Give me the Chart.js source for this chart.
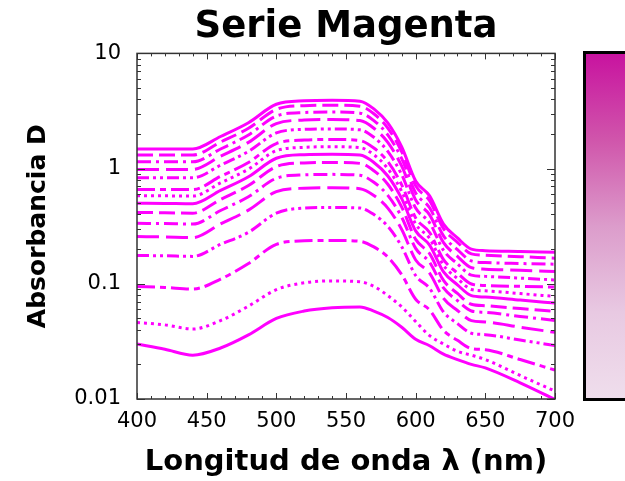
<!DOCTYPE html>
<html>
<head>
<meta charset="utf-8">
<script src="https://cdn.jsdelivr.net/npm/chart.js@4.4.1/dist/chart.umd.min.js"></script>
<style>
  body { margin: 0; background: #fff; }
</style>
</head>
<body>
<canvas id="myChart" width="625" height="481"></canvas>
<script>
// wavelengths (nm) shared by every curve
var wavelengths = [400, 420, 440, 460, 480, 500, 520, 540, 560, 570, 580, 590, 600, 610, 620, 630, 640, 650, 675, 700];

// absorbance, top curve first
var serie1 = [1.48, 1.48, 1.48, 1.90, 2.50, 3.62, 3.88, 3.92, 3.85, 3.30, 2.49, 1.54, 0.78, 0.58, 0.33, 0.25, 0.20, 0.194, 0.191, 0.188];
var serie2 = [1.31, 1.31, 1.31, 1.70, 2.24, 3.27, 3.52, 3.55, 3.48, 2.99, 2.25, 1.40, 0.71, 0.526, 0.301, 0.229, 0.182, 0.177, 0.172, 0.167];
var serie3 = [1.145, 1.145, 1.145, 1.48, 1.96, 2.86, 3.07, 3.10, 3.03, 2.61, 1.96, 1.22, 0.615, 0.457, 0.261, 0.198, 0.158, 0.153, 0.150, 0.148];
var serie4 = [0.984, 0.984, 0.984, 1.28, 1.69, 2.46, 2.64, 2.67, 2.61, 2.24, 1.69, 1.05, 0.535, 0.397, 0.228, 0.173, 0.138, 0.134, 0.131, 0.128];
var serie5 = [0.832, 0.832, 0.832, 1.07, 1.41, 2.04, 2.19, 2.21, 2.17, 1.87, 1.41, 0.885, 0.454, 0.339, 0.195, 0.149, 0.119, 0.116, 0.112, 0.108];
var serie6 = [0.660, 0.660, 0.658, 0.857, 1.13, 1.65, 1.77, 1.79, 1.75, 1.51, 1.15, 0.723, 0.373, 0.279, 0.162, 0.124, 0.0995, 0.0966, 0.095, 0.0936];
var serie7 = [0.582, 0.580, 0.578, 0.752, 0.989, 1.43, 1.53, 1.55, 1.52, 1.32, 1.00, 0.634, 0.330, 0.248, 0.145, 0.111, 0.0893, 0.0869, 0.0822, 0.0776];
var serie8 = [0.500, 0.498, 0.495, 0.646, 0.849, 1.23, 1.32, 1.33, 1.31, 1.13, 0.863, 0.548, 0.288, 0.217, 0.127, 0.098, 0.0789, 0.0767, 0.0722, 0.068];
var serie9 = [0.416, 0.414, 0.410, 0.540, 0.713, 1.04, 1.12, 1.13, 1.11, 0.957, 0.731, 0.463, 0.243, 0.183, 0.107, 0.0824, 0.0664, 0.0645, 0.0610, 0.0576];
var serie10 = [0.335, 0.333, 0.330, 0.433, 0.569, 0.824, 0.883, 0.891, 0.875, 0.760, 0.586, 0.378, 0.203, 0.154, 0.092, 0.0714, 0.0581, 0.0565, 0.0521, 0.0481];
var serie11 = [0.257, 0.255, 0.252, 0.331, 0.436, 0.631, 0.676, 0.682, 0.670, 0.585, 0.454, 0.296, 0.161, 0.124, 0.0748, 0.0586, 0.0479, 0.0466, 0.0420, 0.0379];
var serie12 = [0.176, 0.175, 0.173, 0.220, 0.280, 0.410, 0.455, 0.460, 0.455, 0.400, 0.315, 0.210, 0.118, 0.0914, 0.0569, 0.0451, 0.0372, 0.0362, 0.0325, 0.0291];
var serie13 = [0.0948, 0.093, 0.090, 0.110, 0.150, 0.220, 0.236, 0.238, 0.234, 0.209, 0.171, 0.120, 0.0735, 0.0592, 0.0394, 0.0323, 0.0274, 0.0268, 0.0220, 0.0178];
var serie14 = [0.0462, 0.044, 0.0405, 0.048, 0.064, 0.089, 0.102, 0.106, 0.104, 0.095, 0.079, 0.063, 0.047, 0.0355, 0.030, 0.026, 0.024, 0.022, 0.016, 0.0117];
var serie15 = [0.030, 0.027, 0.024, 0.0277, 0.036, 0.050, 0.058, 0.062, 0.063, 0.058, 0.051, 0.042, 0.033, 0.029, 0.0245, 0.022, 0.020, 0.0186, 0.0138, 0.0099];

var xTickValues = [400, 450, 500, 550, 600, 650, 700];
var yTickValues = [0.01, 0.1, 1, 10];
var yTickLabels = ["0.01", "0.1", "1", "10"];

var series = [serie1, serie2, serie3, serie4, serie5, serie6, serie7, serie8,
  serie9, serie10, serie11, serie12, serie13, serie14, serie15];

// solid, long dash, dash-dot, dash, dash-dot-dot, long-short, dotted
var dashStyles = [[], [16, 6], [14, 5, 3, 5], [22, 7], [12, 4, 3, 4, 3, 4], [18, 5, 6, 5], [3, 4]];

var datasets = series.map(function (s, i) {
  return {
    data: s.map(function (v, j) { return { x: wavelengths[j], y: v }; }),
    borderColor: "#ff00ff",
    borderWidth: 3,
    borderDash: dashStyles[i % dashStyles.length],
    pointRadius: 0,
    cubicInterpolationMode: "monotone",
    fill: false,
  };
});

// box round the plot with inward ticks on every side
const framePlugin = {
  id: "frame",
  afterDatasetsDraw(chart) {
    const ctx = chart.ctx;
    const a = chart.chartArea;
    const x = chart.scales.x;
    const y = chart.scales.y;
    ctx.save();
    ctx.strokeStyle = "#333";
    ctx.lineWidth = 1;
    ctx.beginPath();
    for (let v = 400; v <= 700; v += 10) {
      const px = Math.round(x.getPixelForValue(v)) + 0.5;
      const len = v % 50 === 0 ? 6 : 3;
      ctx.moveTo(px, a.bottom); ctx.lineTo(px, a.bottom - len);
      ctx.moveTo(px, a.top); ctx.lineTo(px, a.top + len);
    }
    for (let d = 0.01; d < 10; d *= 10) {
      for (let m = 1; m <= 10; m++) {
        const py = Math.round(y.getPixelForValue(d * m)) + 0.5;
        const len = (m === 1 || m === 10) ? 8 : 4;
        ctx.moveTo(a.left, py); ctx.lineTo(a.left + len, py);
        ctx.moveTo(a.right, py); ctx.lineTo(a.right - len, py);
      }
    }
    ctx.stroke();
    ctx.lineWidth = 1.5;
    ctx.strokeRect(a.left, a.top, a.right - a.left, a.bottom - a.top);
    ctx.restore();
  },
  afterDraw(chart) {
    // colour bar on the right, cut by the edge of the picture
    const ctx = chart.ctx;
    ctx.save();
    const grad = ctx.createLinearGradient(0, 53, 0, 399);
    grad.addColorStop(0, "#c8129f");
    grad.addColorStop(0.25, "#d055ab");
    grad.addColorStop(0.5, "#dc9ccb");
    grad.addColorStop(0.75, "#e8c9e2");
    grad.addColorStop(1, "#efdeec");
    ctx.fillStyle = grad;
    ctx.fillRect(585, 53, 50, 346);
    ctx.strokeStyle = "#000";
    ctx.lineWidth = 3;
    ctx.strokeRect(584.5, 52.5, 60, 347);
    ctx.restore();
  },
};

Chart.defaults.font.family = "'DejaVu Sans', sans-serif";
Chart.defaults.color = "#000";

var ctx = document.getElementById("myChart").getContext("2d");
var chart = new Chart(ctx, {
  type: "line",
  data: { datasets: datasets },
  plugins: [framePlugin],
  options: {
    responsive: false,
    animation: false,
    devicePixelRatio: 1,
    layout: { padding: { left: 0, right: 70, top: 0, bottom: 0 } },
    plugins: {
      legend: { display: false },
      tooltip: { enabled: false },
      title: {
        display: true,
        text: "Serie Magenta",
        fullSize: false,
        color: "#000",
        font: { size: 37, weight: "bold" },
        padding: { top: 5, bottom: 4 },
      },
    },
    scales: {
      x: {
        type: "linear",
        min: 400,
        max: 700,
        afterBuildTicks: function (scale) {
          scale.ticks = xTickValues.map(function (v) { return { value: v }; });
        },
        afterFit: function (scale) { scale.height = 82; },
        grid: { display: false, drawTicks: false },
        border: { display: false },
        ticks: { font: { size: 21 }, color: "#000", padding: 10, maxRotation: 0, autoSkip: false },
        title: {
          display: true,
          text: "Longitud de onda λ (nm)",
          color: "#000",
          font: { size: 29, weight: "bold" },
          padding: { top: 0, bottom: 1 },
        },
      },
      y: {
        type: "logarithmic",
        min: 0.01,
        max: 10,
        afterBuildTicks: function (scale) {
          scale.ticks = yTickValues.map(function (v) { return { value: v }; });
        },
        afterFit: function (scale) { scale.width = 137; },
        grid: { display: false, drawTicks: false },
        border: { display: false },
        ticks: {
          font: { size: 21 },
          color: "#000",
          padding: 16,
          autoSkip: false,
          callback: function (v) { return yTickLabels[yTickValues.indexOf(v)]; },
        },
        title: {
          display: true,
          text: "Absorbancia D",
          color: "#000",
          font: { size: 25, weight: "bold" },
          padding: { top: 23, bottom: 0 },
        },
      },
    },
  },
});
</script>
</body>
</html>
